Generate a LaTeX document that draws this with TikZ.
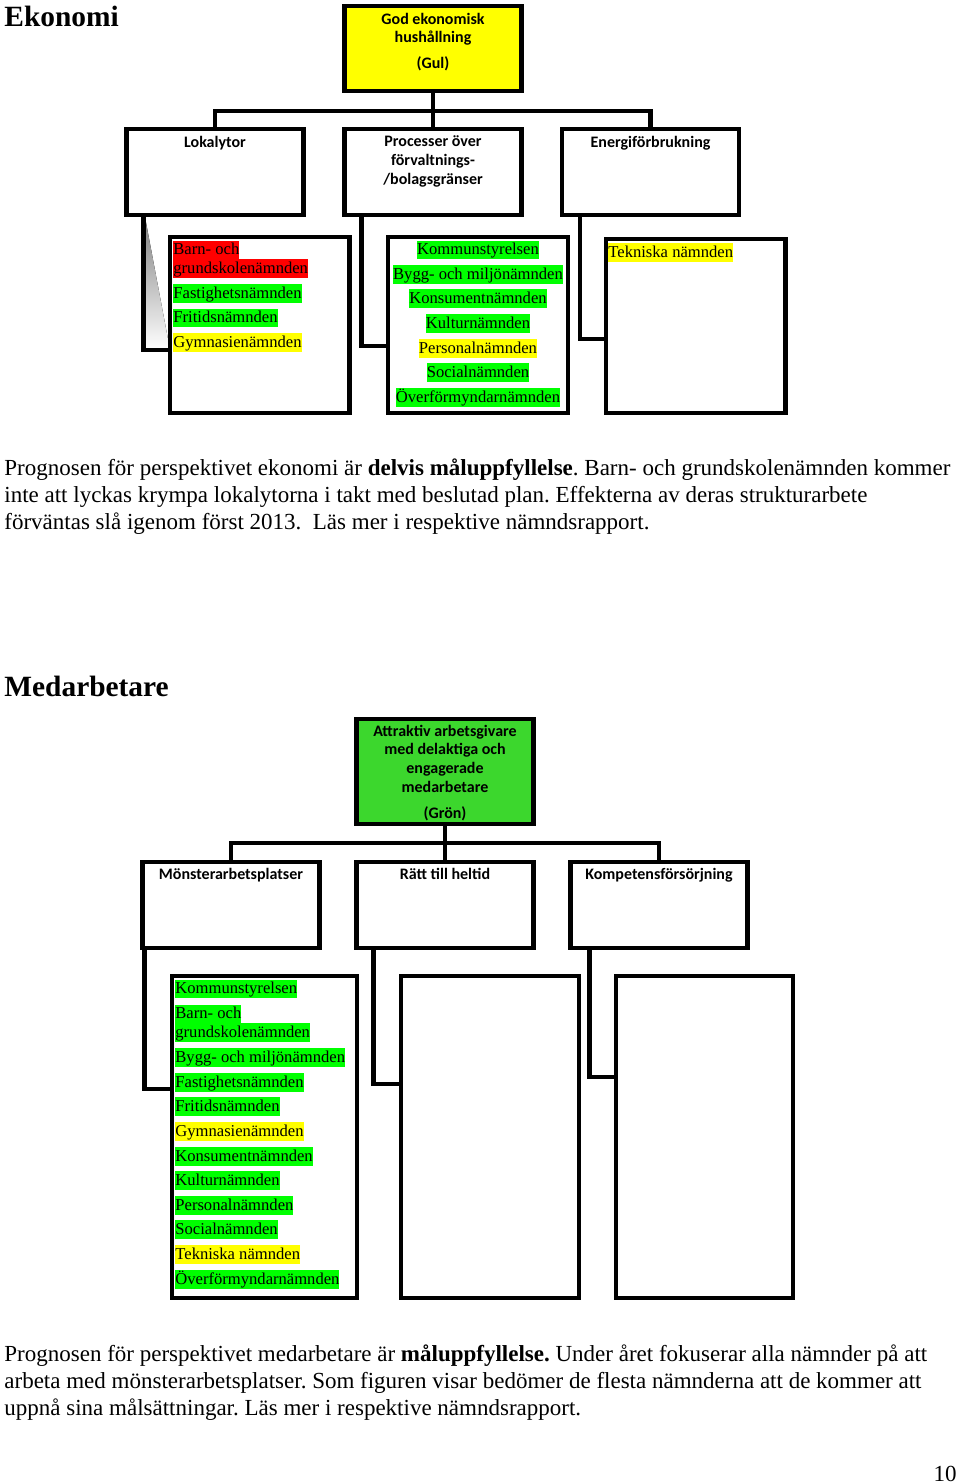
\documentclass[tikz,border=0pt]{standalone}
\usepackage{fontspec}
\setmainfont{Liberation Serif}
\newfontfamily\calibri{Carlito}
\frenchspacing
\definecolor{hlgreen}{RGB}{0,255,0}
\definecolor{hlyellow}{RGB}{255,255,0}
\definecolor{hlred}{RGB}{255,0,0}
\definecolor{goalyellow}{RGB}{255,255,0}
\definecolor{goalgreen}{RGB}{60,215,45}
\definecolor{shade}{RGB}{188,208,238}
\tikzset{
  heading/.style={inner sep=0pt, font=\bfseries\fontsize{14.7}{16}\selectfont},
  body/.style={inner sep=0pt, align=left, font=\fontsize{11.5}{13.5}\selectfont},
  goal/.style={draw, line width=2.2pt, outer sep=0pt, minimum width=88.5pt},
  area/.style={draw, line width=2.2pt, outer sep=0pt, minimum width=88.5pt, minimum height=43pt},
  listbox/.style={draw, line width=2.2pt, outer sep=0pt, minimum width=89.75pt},
  boxtext/.style={inner sep=0pt, align=center, font=\calibri\bfseries\fontsize{8}{9.4}\selectfont},
  link/.style={line width=2.2pt},
  hl/.style={fill=#1, inner sep=0pt, anchor=west, text height=7.05pt, text depth=2.2pt,
    font=\fontsize{8.3}{9.25}\selectfont},
  hlc/.style={hl=#1, anchor=center}
}
\begin{document}
\begin{tikzpicture}[x=0.5pt,y=-0.5pt]
  \useasboundingbox (0,0) rectangle (960,1483);
  % Ekonomi
  \node[heading,anchor=base west] (ekonomi) at (4,26) {Ekonomi};
  \node[goal,fill=goalyellow,minimum height=42.5pt] (gul) at (433,48.5) {};
  \node[boxtext,anchor=north] (gul-t) at (433,12.5) {God ekonomisk\\hushållning\\[3.5pt](Gul)};
  % Draw areas
  \node[area] (lok) at (215,172) {};
  \node[area] (proc) at (433,172) {};
  \node[area] (energi) at (650.5,172) {};
  \node[boxtext,anchor=north] (lok-t) at (215,135.5) {Lokalytor};
  \node[boxtext,anchor=north] (proc-t) at (433,135.5) {Processer över\\förvaltnings-\\/bolagsgränser};
  \node[boxtext,anchor=north] (energi-t) at (650.5,135.5) {Energiförbrukning};
  \coordinate (ek-bus) at (433,111);
  \draw[link] (gul.south) -- (proc.north);
  \draw[link] (lok.north) |- (ek-bus) -| (energi.north);
  % Draw boards
  \fill[shade] (145,217) -- (145,350) -- (170,350) -- cycle;
  \node[listbox,minimum height=88pt] (lista) at (259.75,325) {};
  \node[listbox,minimum height=88pt] (listb) at (478,325) {};
  \node[listbox,minimum height=87pt] (listc) at (695.75,326) {};
  \draw[link] ([xshift=8.5pt]lok.south west) |- ([yshift=-12.5pt]lista.west);
  \draw[link] ([xshift=8.5pt]proc.south west) |- ([yshift=-10.5pt]listb.west);
  \draw[link] ([xshift=9pt]energi.south west) |- ([yshift=-6.5pt]listc.west);
  \node[hl=hlred] (lista-1) at (173,250) {Barn- och};
  \node[hl=hlred] (lista-2) at (173,268.5) {grundskolenämnden};
  \node[hl=hlgreen] (lista-3) at (173,293.5) {Fastighetsnämnden};
  \node[hl=hlgreen] (lista-4) at (173,318) {Fritidsnämnden};
  \node[hl=hlyellow] (lista-5) at (173,342.5) {Gymnasienämnden};
  \node[hlc=hlgreen] (listb-1) at (478,250) {Kommunstyrelsen};
  \node[hlc=hlgreen] (listb-2) at (478,274.5) {Bygg- och miljönämnden};
  \node[hlc=hlgreen] (listb-3) at (478,298.5) {Konsumentnämnden};
  \node[hlc=hlgreen] (listb-4) at (478,323.5) {Kulturnämnden};
  \node[hlc=hlyellow] (listb-5) at (478,348.5) {Personalnämnden};
  \node[hlc=hlgreen] (listb-6) at (478,372.5) {Socialnämnden};
  \node[hlc=hlgreen] (listb-7) at (478,397.5) {Överförmyndarnämnden};
  \node[hl=hlyellow] (listc-1) at (608,252.5) {Tekniska nämnden};
  \node[body,anchor=north west] (ek-text) at (4,458)
    {Prognosen för perspektivet ekonomi är \textbf{delvis måluppfyllelse}. Barn- och grundskolenämnden kommer\\
     inte att lyckas krympa lokalytorna i takt med beslutad plan. Effekterna av deras strukturarbete\\
     förväntas slå igenom först 2013.\ \ Läs mer i respektive nämndsrapport.};
  % Medarbetare
  \node[heading,anchor=base west] (medarb) at (4,696) {Medarbetare};
  \node[goal,fill=goalgreen,minimum height=52.5pt] (gron) at (445,771.5) {};
  \node[boxtext,anchor=north] (gron-t) at (445,724.5) {Attraktiv arbetsgivare\\med delaktiga och\\engagerade\\medarbetare\\[3.5pt](Grön)};
  % Draw areas
  \node[area] (monster) at (231,905) {};
  \node[area] (heltid) at (445,905) {};
  \node[area] (kompetens) at (659,905) {};
  \node[boxtext,anchor=north] (monster-t) at (231,867.5) {Mönsterarbetsplatser};
  \node[boxtext,anchor=north] (heltid-t) at (445,867.5) {Rätt till heltid};
  \node[boxtext,anchor=north] (kompetens-t) at (659,867.5) {Kompetensförsörjning};
  \coordinate (me-bus) at (445,843);
  \draw[link] (gron.south) -- (heltid.north);
  \draw[link] (monster.north) |- (me-bus) -| (kompetens.north);
  % Draw boards
  \node[listbox,minimum width=92.5pt,minimum height=161pt] (meda) at (264.5,1137) {};
  \node[listbox,minimum width=89pt,minimum height=161pt] (medb) at (490,1137) {};
  \node[listbox,minimum width=88.5pt,minimum height=161pt] (medc) at (704.5,1137) {};
  \draw[link] ([xshift=1pt]monster.south west) |- ([yshift=24pt]meda.west);
  \draw[link] ([xshift=8.5pt]heltid.south west) |- ([yshift=26.5pt]medb.west);
  \draw[link] ([xshift=9.5pt]kompetens.south west) |- ([yshift=30pt]medc.west);
  \node[hl=hlgreen] (meda-1) at (175,989) {Kommunstyrelsen};
  \node[hl=hlgreen] (meda-2) at (175,1014) {Barn- och};
  \node[hl=hlgreen] (meda-3) at (175,1032.5) {grundskolenämnden};
  \node[hl=hlgreen] (meda-4) at (175,1057.5) {Bygg- och miljönämnden};
  \node[hl=hlgreen] (meda-5) at (175,1082.5) {Fastighetsnämnden};
  \node[hl=hlgreen] (meda-6) at (175,1106.5) {Fritidsnämnden};
  \node[hl=hlyellow] (meda-7) at (175,1131.5) {Gymnasienämnden};
  \node[hl=hlgreen] (meda-8) at (175,1156.5) {Konsumentnämnden};
  \node[hl=hlgreen] (meda-9) at (175,1180.5) {Kulturnämnden};
  \node[hl=hlgreen] (meda-10) at (175,1205.5) {Personalnämnden};
  \node[hl=hlgreen] (meda-11) at (175,1229.5) {Socialnämnden};
  \node[hl=hlyellow] (meda-12) at (175,1254.5) {Tekniska nämnden};
  \node[hl=hlgreen] (meda-13) at (175,1279.5) {Överförmyndarnämnden};
  \node[body,anchor=north west] (me-text) at (4,1344)
    {Prognosen för perspektivet medarbetare är \textbf{måluppfyllelse.} Under året fokuserar alla nämnder på att\\
     arbeta med mönsterarbetsplatser. Som figuren visar bedömer de flesta nämnderna att de kommer att\\
     uppnå sina målsättningar. Läs mer i respektive nämndsrapport.};
  \node[body,anchor=base east] (sida) at (957,1481) {10};
\end{tikzpicture}
\end{document}
